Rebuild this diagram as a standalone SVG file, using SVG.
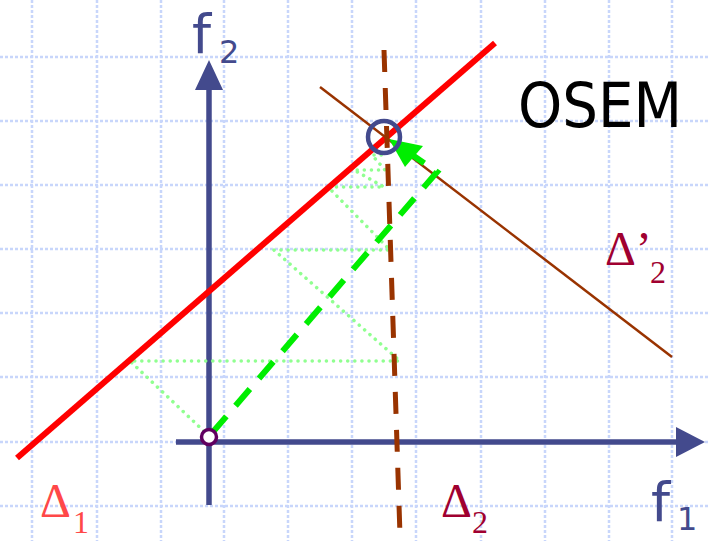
<svg xmlns="http://www.w3.org/2000/svg" width="708" height="541" viewBox="0 0 708 541">
<style>
.grid line{stroke:#c8d6fb;stroke-width:2.5;stroke-dasharray:3 2}
.axis{stroke:#434a8d;stroke-width:5.5;fill:none}
.axhead{fill:#434a8d}
.dots{stroke:#90ff90;stroke-width:3.5;fill:none;stroke-dasharray:0.1 7;stroke-linecap:round}
.lbl{font-family:"DejaVu Sans",sans-serif;fill:#434a8d}
.greek{font-family:"Liberation Serif",serif}
</style>
<rect width="708" height="541" fill="#ffffff"/>
<g id="grid" class="grid">
<line x1="32" y1="0" x2="32" y2="541"/>
<line x1="97" y1="0" x2="97" y2="541"/>
<line x1="161" y1="0" x2="161" y2="541"/>
<line x1="224" y1="0" x2="224" y2="541"/>
<line x1="288" y1="0" x2="288" y2="541"/>
<line x1="352" y1="0" x2="352" y2="541"/>
<line x1="416" y1="0" x2="416" y2="541"/>
<line x1="481" y1="0" x2="481" y2="541"/>
<line x1="545" y1="0" x2="545" y2="541"/>
<line x1="609" y1="0" x2="609" y2="541"/>
<line x1="672" y1="0" x2="672" y2="541"/>
<line x1="0" y1="57" x2="708" y2="57"/>
<line x1="0" y1="121" x2="708" y2="121"/>
<line x1="0" y1="185" x2="708" y2="185"/>
<line x1="0" y1="249" x2="708" y2="249"/>
<line x1="0" y1="313" x2="708" y2="313"/>
<line x1="0" y1="377" x2="708" y2="377"/>
<line x1="0" y1="442" x2="708" y2="442"/>
<line x1="0" y1="506" x2="708" y2="506"/>
</g>
<g id="axis-f2">
<line class="axis" x1="209" y1="505" x2="209" y2="86"/>
<polygon class="axhead" points="209,60 195,90 223,90"/>
</g>
<g id="axis-f1">
<line class="axis" x1="176" y1="442" x2="680" y2="442"/>
<polygon class="axhead" points="705,442 676,427 676,457"/>
</g>
<g id="connectors">
<polyline class="dots" points="209,436 130,361 400,361 274,250 390,250 328,187 384,187 354,170 385,170 372,155 385,155"/>
<line id="delta1-line" x1="17" y1="458" x2="495" y2="43" stroke="#ff0000" stroke-width="6"/>
<line id="delta2p-line" x1="320" y1="87" x2="672" y2="357" stroke="#993300" stroke-width="2.5"/>
<polyline points="212,433 437,172 402,148" fill="none" stroke="#00ee00" stroke-width="6" stroke-dasharray="22 14"/>
<polygon points="389,139 423,146 405,167" fill="#00ee00"/>
<line id="delta2-line" x1="384" y1="50" x2="400" y2="535" stroke="#993300" stroke-width="5" stroke-dasharray="22 16"/>
</g>
<g id="origin">
<circle cx="209" cy="437" r="7.5" fill="#ffffff" stroke="#600060" stroke-width="3.5"/>
</g>
<g id="solution">
<circle cx="384" cy="137" r="16" fill="none" stroke="#434a8d" stroke-width="4.5"/>
</g>
<g id="labels">
<text class="lbl" x="192" y="53" font-size="54">f</text>
<text class="lbl" x="219" y="63" font-size="32">2</text>
<text class="lbl" x="651" y="521" font-size="54">f</text>
<text class="lbl" x="677" y="530" font-size="32">1</text>
<text x="518" y="127" font-family="DejaVu Sans,sans-serif" font-size="62" fill="#000000" textLength="164" lengthAdjust="spacingAndGlyphs">OSEM</text>
<text class="greek" x="605" y="265" font-size="48" fill="#a00030">Δ’</text>
<text class="greek" x="650" y="283" font-size="32" fill="#a00030">2</text>
<text class="greek" x="40" y="517" font-size="48" fill="#ff4848">Δ</text>
<text class="greek" x="73" y="533" font-size="32" fill="#ff4848">1</text>
<text class="greek" x="441" y="517" font-size="48" fill="#a00030">Δ</text>
<text class="greek" x="472" y="533" font-size="32" fill="#a00030">2</text>
</g>
</svg>
